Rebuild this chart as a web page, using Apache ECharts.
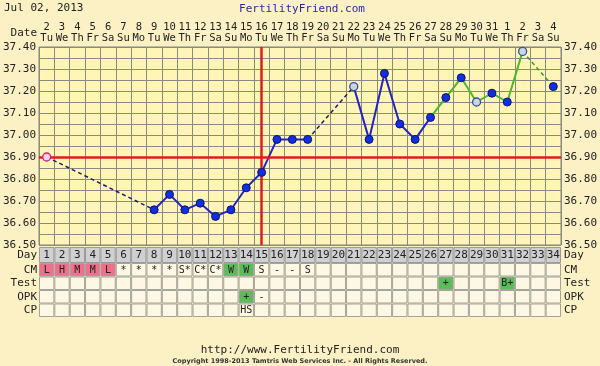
<!DOCTYPE html>
<html><head><meta charset="utf-8">
<script src="https://cdn.jsdelivr.net/npm/echarts@6/dist/echarts.min.js"></script>
<style>html,body{margin:0;padding:0;background:#fbf1c4}#c{width:600px;height:366px}</style>
</head><body><div id="c"></div>
<script>
// ---------- data ----------
const days = ['1','2','3','4','5','6','7','8','9','10','11','12','13','14','15','16','17','18','19','20','21','22','23','24','25','26','27','28','29','30','31','32','33','34'];
const dates = ['2','3','4','5','6','7','8','9','10','11','12','13','14','15','16','17','18','19','20','21','22','23','24','25','26','27','28','29','30','31','1','2','3','4'];
const weekdays = ['Tu','We','Th','Fr','Sa','Su','Mo','Tu','We','Th','Fr','Sa','Su','Mo','Tu','We','Th','Fr','Sa','Su','Mo','Tu','We','Th','Fr','Sa','Su','Mo','Tu','We','Th','Fr','Sa','Su'];
const temps = [36.90,null,null,null,null,null,null,36.66,36.73,36.66,36.69,36.63,36.66,36.76,36.83,36.98,36.98,36.98,null,null,37.22,36.98,37.28,37.05,36.98,37.08,37.17,37.26,37.15,37.19,37.15,37.38,null,37.22];
const discardedDays = [1,21,29,32];
const coverline = 36.90;
const ovulationDay = 15;
const cm   = ['L','H','M','M','L','*','*','*','*','S*','C*','C*','W','W','S','-','-','S','','','','','','','','','','','','','','','',''];
const test = ['','','','','','','','','','','','','','','','','','','','','','','','','','','+','','','','B+','','',''];
const opk  = ['','','','','','','','','','','','','','+','-','','','','','','','','','','','','','','','','','','',''];
const cp   = ['','','','','','','','','','','','','','HS','','','','','','','','','','','','','','','','','','','',''];
const rowNames = ['CM','Test','OPK','CP'];
const yTicks = [36.5, 37.4, 0.05];

// ---------- helpers ----------
function seg(a, b) { return temps.map((v, i) => (i + 1 >= a && i + 1 <= b) ? v : null); }
const MONO = 'DejaVu Sans Mono';
const PINK = '#ef6f8c', GREEN = '#5cbc5c';
const cellColor = {L: PINK, H: PINK, M: PINK, W: GREEN, '+': GREEN, 'B+': GREEN};
const tableRows = [cm, test, opk, cp];
const tableData = [], tableText = [];
tableRows.forEach((row, r) => row.forEach((t, i) => { tableData.push([i, r]); tableText.push(t); }));
const dayData = days.map((d, i) => [i, 0]);

const filledPts = [], openPts = [];
temps.forEach((v, i) => {
  if (v == null) return;
  if (discardedDays.indexOf(i + 1) >= 0) {
    openPts.push({value: [i, v], itemStyle: i === 0 ? {color: '#f3d6e6', borderColor: '#c8207a', borderWidth: 1.3} : undefined});
  } else filledPts.push([i, v]);
});

function cellRect(api) {
  const c = api.coord([api.value(0), api.value(1)]);
  const s = api.size([1, 1]);
  return {x: c[0] - s[0] / 2, y: c[1] - s[1] / 2, w: s[0], h: s[1], cx: c[0], cy: c[1]};
}

const chart = echarts.init(document.getElementById('c'), null, {renderer: 'canvas'});
const gridBase = {left: 39, right: 39, outerBoundsMode: 'none', containLabel: false};
const lineSeries = (name, data, color, width, dashed, connect) => ({
  type: 'line', name, data, xAxisIndex: 0, yAxisIndex: 0, showSymbol: false, symbol: 'none',
  connectNulls: connect, silent: true, z: 3, animation: false,
  lineStyle: {color, width, type: dashed ? [4, 3] : 'solid'}
});
const rowLabel = (m) => ({interval: 0, hideOverlap: false, margin: m, fontFamily: MONO, fontSize: 11, color: '#222'});

chart.setOption({
  backgroundColor: '#fbf1c4',
  animation: false,
  grid: [
    Object.assign({top: 47, height: 198, show: true, backgroundColor: '#fff5b6', borderColor: '#858578', borderWidth: 1}, gridBase),
    Object.assign({top: 247, height: 16, show: false}, gridBase),
    Object.assign({top: 263, height: 54, show: false}, gridBase)
  ],
  xAxis: [
    {type: 'category', gridIndex: 0, data: days, boundaryGap: true, axisLine: {show: false}, axisTick: {show: false}, axisLabel: {show: false},
     splitLine: {show: true, interval: 0, lineStyle: {color: '#8a8a7e', width: 1}}},
    {type: 'category', gridIndex: 0, position: 'top', data: days, boundaryGap: true, axisLine: {show: false}, axisTick: {show: false},
     axisLabel: {interval: 0, hideOverlap: false, margin: 3, formatter: (v, i) => '{d|' + dates[i] + '}\n{w|' + weekdays[i] + '}',
       rich: {d: {fontFamily: MONO, fontSize: 10.5, color: '#222', lineHeight: 11}, w: {fontFamily: MONO, fontSize: 10.5, color: '#222', lineHeight: 11}}}},
    {type: 'category', gridIndex: 1, data: days, show: false},
    {type: 'category', gridIndex: 2, data: days, show: false}
  ],
  yAxis: [
    {type: 'value', gridIndex: 0, min: yTicks[0], max: yTicks[1], interval: yTicks[2], axisLine: {show: false}, axisTick: {show: false},
     splitLine: {show: true, lineStyle: {color: '#8a8a7e', width: 1}},
     axisLabel: {margin: 3, fontFamily: MONO, fontSize: 11, color: '#222', formatter: v => (Math.round(v * 100) % 10 === 0) ? v.toFixed(2) : ''}},
    {type: 'value', gridIndex: 0, position: 'right', min: yTicks[0], max: yTicks[1], interval: yTicks[2], axisLine: {show: false}, axisTick: {show: false},
     splitLine: {show: false},
     axisLabel: {margin: 3, fontFamily: MONO, fontSize: 11, color: '#222', formatter: v => (Math.round(v * 100) % 10 === 0) ? v.toFixed(2) : ''}},
    {type: 'category', gridIndex: 1, data: ['Day'], axisLine: {show: false}, axisTick: {show: false}, axisLabel: rowLabel(2)},
    {type: 'category', gridIndex: 1, position: 'right', data: ['Day'], axisLine: {show: false}, axisTick: {show: false}, axisLabel: rowLabel(3)},
    {type: 'category', gridIndex: 2, data: rowNames, inverse: true, axisLine: {show: false}, axisTick: {show: false}, axisLabel: rowLabel(2)},
    {type: 'category', gridIndex: 2, position: 'right', data: rowNames, inverse: true, axisLine: {show: false}, axisTick: {show: false}, axisLabel: rowLabel(3)}
  ],
  series: [
    Object.assign(lineSeries('pre1', seg(1, 8), '#1e1e70', 1.5, true, true), {
      markLine: {silent: true, symbol: 'none', label: {show: false}, animation: false,
        lineStyle: {color: '#e01c1c', width: 2.5, type: 'solid'},
        data: [{yAxis: coverline}, {xAxis: ovulationDay - 1}]}
    }),
    lineSeries('gap1', seg(18, 21), '#1e1e70', 1.5, true, true),
    lineSeries('blue', seg(8, 18).map((v, i) => v != null ? v : seg(21, 26)[i]), '#2525c4', 2, false, false),
    lineSeries('green', seg(26, 32), '#4cb830', 2, false, false),
    lineSeries('greenDash', seg(32, 34), '#3c9a2a', 1.5, true, true),
    {type: 'scatter', xAxisIndex: 0, yAxisIndex: 0, data: filledPts, symbolSize: 8, z: 5, silent: true,
     itemStyle: {color: '#0f2fe0', borderColor: '#101070', borderWidth: 1, opacity: 1}},
    {type: 'scatter', xAxisIndex: 0, yAxisIndex: 0, data: openPts, symbolSize: 8, z: 5, silent: true,
     itemStyle: {color: '#cdd6de', borderColor: '#3050a8', borderWidth: 1.3, opacity: 1}},
    {type: 'custom', xAxisIndex: 2, yAxisIndex: 2, data: dayData, silent: true,
     renderItem: (params, api) => {
       const r = cellRect(api);
       return {type: 'group', children: [
         {type: 'rect', shape: {x: r.x + 0.5, y: r.y + 0.5, width: r.w - 1, height: r.h - 1}, style: {fill: '#d0d0d3', stroke: '#9a9a9a', lineWidth: 1}},
         {type: 'text', style: {text: days[params.dataIndex], x: r.cx, y: r.cy + 0.5, align: 'center', verticalAlign: 'middle', font: '11px ' + MONO, fill: '#222'}}
       ]};
     }},
    {type: 'custom', xAxisIndex: 3, yAxisIndex: 4, data: tableData, silent: true,
     renderItem: (params, api) => {
       const r = cellRect(api);
       const t = tableText[params.dataIndex];
       const fill = cellColor[t] || '#fdf7e4';
       return {type: 'group', children: [
         {type: 'rect', shape: {x: r.x + 0.5, y: r.y + 0.5, width: r.w - 1, height: r.h - 1}, style: {fill: fill, stroke: '#a4a49a', lineWidth: 1}},
         {type: 'text', style: {text: t, x: r.cx, y: r.cy + 0.5, align: 'center', verticalAlign: 'middle', font: '10px ' + MONO, fill: '#222'}}
       ]};
     }}
  ],
  graphic: [
    {type: 'text', left: 4, top: 3, style: {text: 'Jul 02, 2013', font: '11px ' + MONO, fill: '#222'}},
    {type: 'text', x: 302, y: 9, style: {text: 'FertilityFriend.com', font: '11px ' + MONO, fill: '#2a2aa0', align: 'center', verticalAlign: 'middle'}},
    {type: 'text', x: 37, y: 33, style: {text: 'Date', font: '11px ' + MONO, fill: '#222', align: 'right', verticalAlign: 'middle'}},
    {type: 'text', x: 300, y: 350, style: {text: 'http://www.FertilityFriend.com', font: '11px ' + MONO, fill: '#222', align: 'center', verticalAlign: 'middle'}},
    {type: 'text', x: 300, y: 361, style: {text: 'Copyright 1998-2013 Tamtris Web Services Inc. - All Rights Reserved.', font: 'bold 6.5px "DejaVu Sans"', fill: '#333', align: 'center', verticalAlign: 'middle'}}
  ]
});
</script></body></html>
